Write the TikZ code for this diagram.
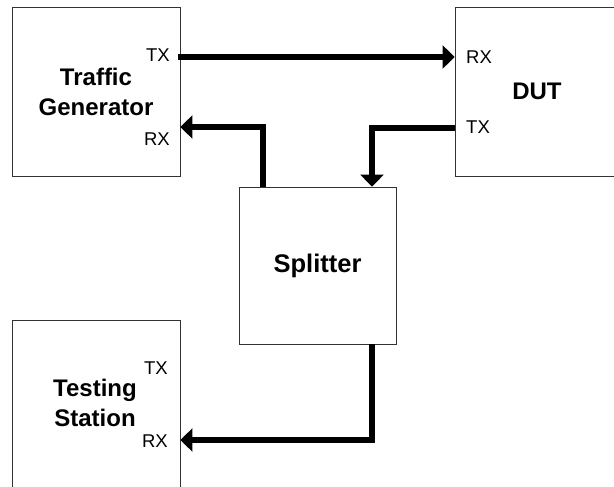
\documentclass[tikz,border=0pt]{standalone}
\usepackage{fontspec}
\setmainfont{Liberation Sans}
\usetikzlibrary{arrows.meta,positioning}
\tikzset{box/.style={shape=rectangle, draw=black!80, line width=.8pt, fill=white,
    inner sep=0pt, align=center, font=\fontsize{24}{30}\selectfont\bfseries}}
\tikzset{port/.style={inner sep=0pt, font=\fontsize{18.5}{20}\selectfont}}
\tikzset{link/.style={line width=5.5pt, -{Triangle[width=23pt,length=12pt]}}}

\begin{document}
\begin{tikzpicture}[x=1pt, y=-1pt]
    \path[use as bounding box, clip] (0,0) rectangle (614,487);
    % boxes
    \node[box, minimum width=168pt, minimum height=169pt] (tg) at (96,91.5) {Traffic\\Generator};
    \node[box, minimum width=164pt, minimum height=169pt] (dut) at (537,91.5) {DUT};
    \node[box, minimum width=157pt, minimum height=157pt, font=\fontsize{25.5}{30}\selectfont\bfseries] (spl) at (317.5,265.5) {Splitter};
    \node[box, minimum width=168pt, minimum height=180pt] (ts) at (96,410) {};
    \node[box, draw=none, fill=none] (ts-name) at (95,403) {Testing\\Station};
    % ports
    \node[port, anchor=east] (tg-tx) at (170,55.5) {TX};
    \node[port, anchor=east] (tg-rx) at (170,139.5) {RX};
    \node[port, anchor=west] (dut-rx) at (466,57) {RX};
    \node[port, anchor=west] (dut-tx) at (466,127) {TX};
    \node[port, anchor=east] (ts-tx) at (168,368) {TX};
    \node[port, anchor=east] (ts-rx) at (168,441) {RX};
    % links
    \draw[link] ([shift={(-2,-34.5)}]tg.east) -- ([yshift=34.5pt]dut.west);
    \draw[link] ([yshift=-36.5pt]dut.west) -| ([xshift=54.5pt]spl.north);
    \draw[link] ([xshift=-54.5pt]spl.north) |- ([yshift=-35.5pt]tg.east);
    \draw[link] ([xshift=54.5pt]spl.south) |- ([yshift=-30pt]ts.east);
\end{tikzpicture}
\end{document}
